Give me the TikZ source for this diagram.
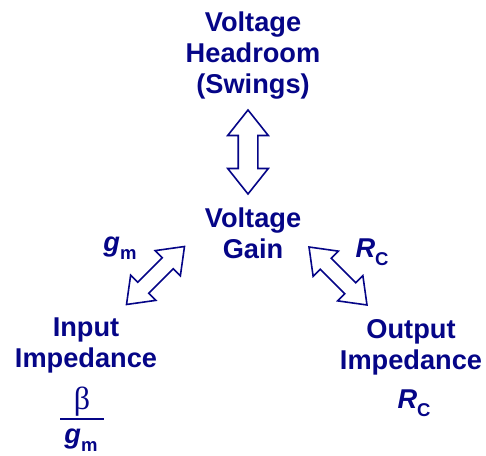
\documentclass[tikz,border=0pt]{standalone}
\usepackage{fontspec}
\setmainfont{Liberation Sans}
\newfontfamily\greekserif{Liberation Serif}
\usepackage{tikz}
\usetikzlibrary{shapes.arrows, calc}

\definecolor{navyblue}{RGB}{5,5,135}
\newcommand{\lowsub}[1]{\raisebox{-8pt}{\fontsize{18.5}{18.5}\selectfont #1}}

\begin{document}
\begin{tikzpicture}[x=1pt, y=1pt,
    lab/.style={text=navyblue, font=\fontsize{27.2}{31}\selectfont\bfseries, align=center, inner sep=0pt},
    fatarrow/.style={double arrow, draw=navyblue, fill=white, line width=1.6pt, inner sep=9pt,
        minimum height=84pt, double arrow head extend=10.5pt, double arrow tip angle=77},
    diagarrow/.style={fatarrow, inner sep=7pt, minimum height=82pt,
        double arrow head extend=10pt, double arrow tip angle=74}]
        \useasboundingbox (0, 0) rectangle (486, 455);

        % Quantities
        \node[lab, anchor=north] (headroom) at (253, 443) {Voltage\\Headroom\\(Swings)};
        \node[lab, anchor=north] (gain) at (253, 247) {Voltage\\Gain};
        \node[lab, anchor=north] (input) at (86, 137) {Input\\Impedance};
        \node[lab, anchor=north] (output) at (411, 136) {Output\\Impedance};

        % Trade-off arrows
        \node[fatarrow, rotate=90] (swingtrade) at (248, 303) {};
        \node[diagarrow, rotate=45] (intrade) at (155.5, 179.5) {};
        \node[diagarrow, rotate=-45] (outtrade) at (338, 179) {};

        % Parameters
        \node[lab, anchor=base] (gmlabel) at (120, 203) {\itshape g\lowsub{\upshape m}};
        \node[lab, anchor=base] (rclabel) at (372, 197) {\itshape R\lowsub{\upshape C}};
        \node[lab, anchor=base] (rcout) at (414, 47) {\itshape R\lowsub{\upshape C}};

        % Input impedance ratio
        \node[text=navyblue, font=\fontsize{32}{32}\selectfont\greekserif, inner sep=0pt, anchor=base] (beta) at (82, 46) {β};
        \node[lab, anchor=base] (gmratio) at (81, 12) {\itshape g\lowsub{\upshape m}};
        \draw[navyblue, line width=1.8pt] (60, 36) -- (104, 36);
    \end{tikzpicture}
\end{document}
